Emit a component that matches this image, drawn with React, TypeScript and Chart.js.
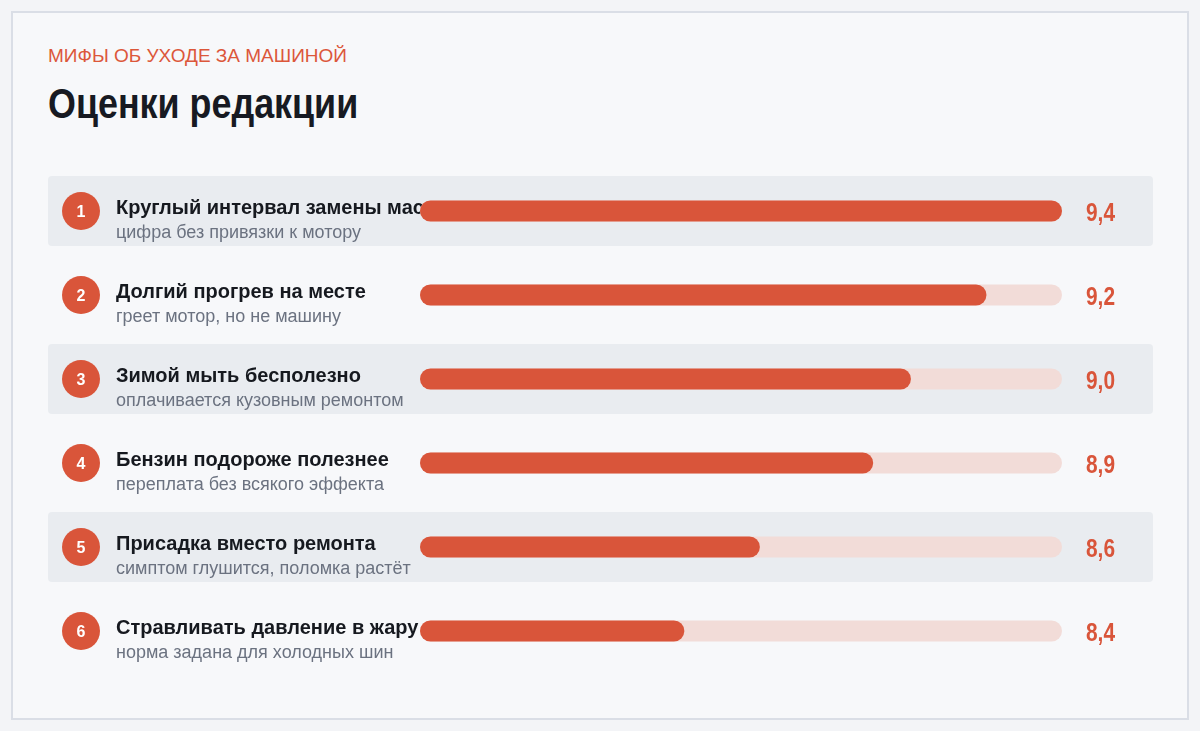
import { useEffect, useRef } from "react"
import { Chart, registerables } from "chart.js"

Chart.register(...registerables)

const myths = [
  "Круглый интервал замены масла",
  "Долгий прогрев на месте",
  "Зимой мыть бесполезно",
  "Бензин подороже полезнее",
  "Присадка вместо ремонта",
  "Стравливать давление в жару",
]

const notes = [
  "цифра без привязки к мотору",
  "греет мотор, но не машину",
  "оплачивается кузовным ремонтом",
  "переплата без всякого эффекта",
  "симптом глушится, поломка растёт",
  "норма задана для холодных шин",
]

const scores = [9.4, 9.2, 9.0, 8.9, 8.6, 8.4]

const SCALE_MIN = 7.7
const SCALE_MAX = 9.4

const RED = "#d9553a"
const TRACK = "#f2dcd8"
const BAND = "#e9ecf0"
const FONT = "'Liberation Sans', Arial, sans-serif"
// узкого начертания нет, поджимаем обычное
const NARROW = 0.835

const fmt = (v: number) => v.toFixed(1).replace(".", ",")

// полосы, номера и подписи рисуем до столбцов, значения после
const rowsPlugin = {
  id: "rows",
  beforeDatasetsDraw(chart: Chart) {
    const { ctx, scales, width } = chart
    const y = scales.y
    ctx.save()
    myths.forEach((label, i) => {
      const cy = y.getPixelForValue(i)
      if (i % 2 === 0) {
        ctx.fillStyle = BAND
        ctx.beginPath()
        ctx.roundRect(0, cy - 35, width, 70, 4)
        ctx.fill()
      }
      ctx.fillStyle = RED
      ctx.beginPath()
      ctx.arc(33, cy, 19, 0, Math.PI * 2)
      ctx.fill()
      ctx.fillStyle = "#ffffff"
      ctx.font = `bold 16px ${FONT}`
      ctx.textAlign = "center"
      ctx.textBaseline = "alphabetic"
      ctx.fillText(String(i + 1), 33, cy + 6)

      ctx.textAlign = "left"
      ctx.fillStyle = "#16191f"
      ctx.font = `bold 20px ${FONT}`
      ctx.fillText(label, 68, cy + 2.5)
      ctx.fillStyle = "#6b7280"
      ctx.font = `18px ${FONT}`
      ctx.fillText(notes[i], 68, cy + 27)
    })
    ctx.restore()
  },
  afterDatasetsDraw(chart: Chart) {
    const { ctx, scales } = chart
    const y = scales.y
    ctx.save()
    ctx.fillStyle = RED
    ctx.font = `bold 25px ${FONT}`
    ctx.textAlign = "left"
    ctx.textBaseline = "alphabetic"
    scores.forEach((v, i) => {
      ctx.save()
      ctx.translate(1038, y.getPixelForValue(i) + 9.5)
      ctx.scale(NARROW, 1)
      ctx.fillText(fmt(v), 0, 0)
      ctx.restore()
    })
    ctx.restore()
  },
}

export default function App() {
  const canvasRef = useRef<HTMLCanvasElement>(null)

  useEffect(() => {
    if (!canvasRef.current) return
    const chart = new Chart(canvasRef.current, {
      type: "bar",
      data: {
        labels: myths,
        datasets: [
          {
            data: scores,
            backgroundColor: RED,
            borderRadius: 11,
            borderSkipped: false,
            base: SCALE_MIN,
            order: 1,
          },
          {
            data: scores.map(() => SCALE_MAX),
            backgroundColor: TRACK,
            borderRadius: 11,
            borderSkipped: false,
            base: SCALE_MIN,
            order: 2,
          },
        ],
      },
      options: {
        indexAxis: "y",
        responsive: false,
        animation: false,
        events: [],
        layout: { padding: { left: 372, right: 91, top: 0, bottom: 0 } },
        datasets: {
          bar: { grouped: false, barPercentage: 0.25, categoryPercentage: 1 },
        },
        scales: {
          x: { display: false, min: SCALE_MIN, max: SCALE_MAX },
          y: { display: false },
        },
        plugins: {
          legend: { display: false },
          tooltip: { enabled: false },
        },
      },
      plugins: [rowsPlugin],
    })
    return () => chart.destroy()
  }, [])

  return (
    <div style={{ position: "fixed", inset: 0, background: "#f3f4f7" }}>
      <div
        style={{
          position: "absolute",
          left: 11,
          top: 11,
          width: 1174,
          height: 705,
          background: "#f7f8fa",
          border: "2px solid #dadee6",
        }}
      >
        <div
          style={{
            position: "absolute",
            left: 35,
            top: 32,
            font: `19px ${FONT}`,
            color: "#dc573a",
            whiteSpace: "nowrap",
          }}
        >
          МИФЫ ОБ УХОДЕ ЗА МАШИНОЙ
        </div>
        <div
          style={{
            position: "absolute",
            left: 35,
            top: 67,
            font: `bold 42.5px ${FONT}`,
            color: "#171a22",
            whiteSpace: "nowrap",
            transform: "scaleX(0.844)",
            transformOrigin: "left top",
          }}
        >
          Оценки редакции
        </div>
        <canvas
          ref={canvasRef}
          width={1105}
          height={504}
          style={{ position: "absolute", left: 35, top: 156 }}
        />
      </div>
    </div>
  )
}
